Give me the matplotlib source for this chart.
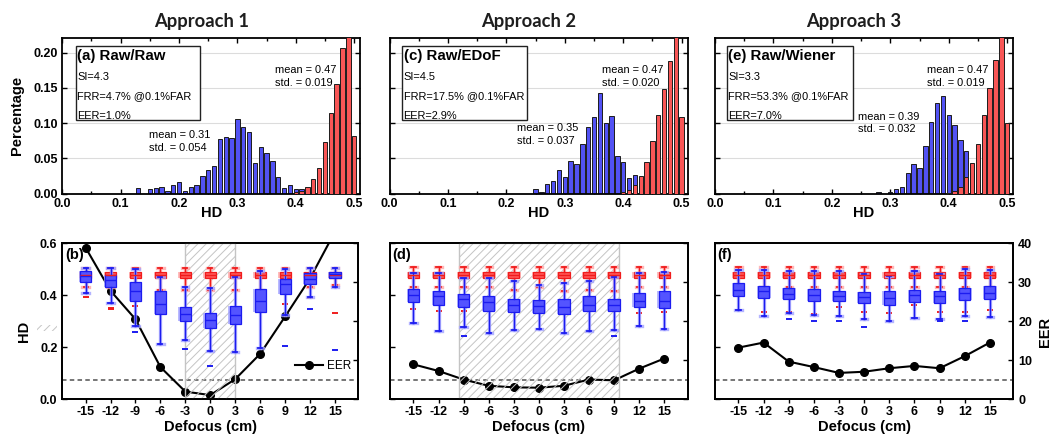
import numpy as np
import matplotlib
matplotlib.use("Agg")
import matplotlib.pyplot as plt
from matplotlib.patches import Rectangle
from matplotlib.ticker import MultipleLocator, FormatStrFormatter

plt.rcParams['font.family'] = ['Liberation Sans', 'DejaVu Sans']
plt.rcParams['hatch.linewidth'] = 0.7

BIN = 0.01

# ---------------- HD histograms (fraction per 0.01 bin) ----------------
gen_a_start = 0.13
gen_a_pct = [0.0076, 0.0, 0.006, 0.0085, 0.010, 0.0035, 0.012, 0.016, 0.004, 0.010,
             0.012, 0.025, 0.034, 0.039, 0.077, 0.081, 0.079, 0.106, 0.094, 0.087,
             0.043, 0.066, 0.058, 0.047, 0.024, 0.008, 0.013, 0.006, 0.006, 0.003]
imp_a_start = 0.40
imp_a_pct = [0.002, 0.004, 0.010, 0.021, 0.037, 0.073, 0.114, 0.156, 0.206, 0.250, 0.082]

gen_c_start = 0.25
gen_c_pct = [0.0066, 0.003, 0.014, 0.018, 0.033, 0.023, 0.046, 0.042, 0.071, 0.095,
             0.108, 0.142, 0.100, 0.110, 0.054, 0.045, 0.022, 0.026, 0.012, 0.003]
imp_c_start = 0.40
imp_c_pct = [0.003, 0.005, 0.012, 0.025, 0.045, 0.074, 0.112, 0.149, 0.188, 0.250, 0.108]

gen_e_start = 0.28
gen_e_pct = [0.002, 0.0, 0.002, 0.007, 0.010, 0.029, 0.042, 0.037, 0.067, 0.101,
             0.128, 0.139, 0.112, 0.097, 0.076, 0.061, 0.029, 0.012, 0.004, 0.002]
imp_e_start = 0.40
imp_e_pct = [0.0015, 0.004, 0.010, 0.023, 0.043, 0.071, 0.112, 0.150, 0.190, 0.250, 0.100]

approach_titles = ['Approach 1', 'Approach 2', 'Approach 3']
hist_tags = ['(a) Raw/Raw', '(c) Raw/EDoF', '(e) Raw/Wiener']
si_values = ['4.3', '4.5', '3.3']
frr_values = ['4.7%', '17.5%', '53.3%']
eer_totals = ['1.0%', '2.9%', '7.0%']
gen_means = ['0.31', '0.35', '0.39']
gen_stds = ['0.054', '0.037', '0.032']
imp_means = ['0.47', '0.47', '0.47']
imp_stds = ['0.019', '0.020', '0.019']

# ---------------- Defocus sweep ----------------
defocus = [-15, -12, -9, -6, -3, 0, 3, 6, 9, 12, 15]

eer_b = [38.9, 27.8, 20.5, 8.2, 1.9, 1.0, 5.1, 11.6, 21.2, 31.0, 43.0]
eer_d = [8.9, 7.2, 5.0, 3.4, 3.0, 2.9, 3.4, 5.0, 4.8, 7.8, 10.4]
eer_f = [13.2, 14.5, 9.6, 8.2, 6.7, 7.0, 7.9, 8.5, 7.9, 11.0, 14.5]
eer_threshold = 5.0

# genuine (blue) HD box statistics
gen_b_q1 = [0.452, 0.433, 0.379, 0.326, 0.302, 0.272, 0.288, 0.335, 0.406, 0.442, 0.468]
gen_b_med = [0.474, 0.459, 0.416, 0.367, 0.329, 0.304, 0.322, 0.376, 0.442, 0.464, 0.480]
gen_b_q3 = [0.495, 0.478, 0.450, 0.415, 0.356, 0.333, 0.360, 0.423, 0.461, 0.484, 0.491]
gen_b_lo = [0.410, 0.371, 0.281, 0.211, 0.227, 0.185, 0.180, 0.195, 0.324, 0.394, 0.433]
gen_b_hi = [0.506, 0.506, 0.502, 0.472, 0.433, 0.427, 0.469, 0.493, 0.500, 0.506, 0.506]
gen_b_out = [[], [], [0.260], [], [0.193], [0.128], [], [], [0.206], [0.346], [0.189]]

gen_d_q1 = [0.373, 0.361, 0.353, 0.340, 0.335, 0.333, 0.328, 0.340, 0.339, 0.353, 0.349]
gen_d_med = [0.401, 0.396, 0.384, 0.373, 0.361, 0.357, 0.353, 0.362, 0.361, 0.378, 0.378]
gen_d_q3 = [0.424, 0.418, 0.403, 0.398, 0.387, 0.380, 0.384, 0.398, 0.387, 0.407, 0.416]
gen_d_lo = [0.294, 0.262, 0.279, 0.253, 0.266, 0.269, 0.253, 0.263, 0.266, 0.283, 0.269]
gen_d_hi = [0.485, 0.485, 0.468, 0.468, 0.455, 0.440, 0.446, 0.456, 0.470, 0.487, 0.490]
gen_d_out = [[], [], [0.244], [], [], [], [], [], [0.243], [], []]

gen_f_q1 = [0.397, 0.389, 0.385, 0.379, 0.376, 0.369, 0.361, 0.375, 0.371, 0.383, 0.384]
gen_f_med = [0.421, 0.416, 0.406, 0.402, 0.397, 0.392, 0.388, 0.400, 0.396, 0.410, 0.407]
gen_f_q3 = [0.446, 0.437, 0.428, 0.425, 0.418, 0.411, 0.415, 0.419, 0.416, 0.427, 0.434]
gen_f_lo = [0.343, 0.321, 0.330, 0.324, 0.320, 0.308, 0.301, 0.311, 0.308, 0.321, 0.317]
gen_f_hi = [0.497, 0.497, 0.494, 0.494, 0.492, 0.480, 0.475, 0.494, 0.482, 0.500, 0.497]
gen_f_out = [[], [], [0.307], [0.302], [0.302], [0.276], [], [], [0.300], [0.300], []]

# impostor (red) HD box statistics
imp_b_q1 = [0.465] * 11
imp_b_med = [0.477] * 11
imp_b_q3 = [0.490] * 11
imp_b_lo = [0.430, 0.430, 0.430, 0.420, 0.420, 0.420, 0.420, 0.420, 0.430, 0.430, 0.440]
imp_b_hi = [0.506] * 11
imp_b_out = [[0.394], [0.350, 0.345], [0.357], [], [], [], [], [], [0.367], [0.390], [0.333]]

imp_d_q1 = [0.468] * 11
imp_d_med = [0.478] * 11
imp_d_q3 = [0.490] * 11
imp_d_lo = [0.430, 0.430, 0.430, 0.430, 0.419, 0.430, 0.418, 0.420, 0.418, 0.430, 0.430]
imp_d_hi = [0.510] * 11
imp_d_out = [[0.346], [0.339], [0.340], [0.392], [], [], [], [], [], [0.333], [0.337]]

imp_f_q1 = [0.468] * 11
imp_f_med = [0.478] * 11
imp_f_q3 = [0.490] * 11
imp_f_lo = [0.430] * 11
imp_f_hi = [0.508] * 11
imp_f_out = [[0.343], [0.337], [0.335], [0.329], [0.356], [0.337], [0.333], [0.364],
             [0.335], [0.335], [0.343]]

sweep_tags = ['(b)', '(d)', '(f)']

# ---------------- styling ----------------
BLUE_BAR = '#5252f4'
RED_BAR = '#f85656'
BLUE_FACE, BLUE_EDGE, BLUE_GLOW = '#5454ff', '#1c1cf0', '#a2a2ff'
RED_FACE, RED_EDGE, RED_GLOW = '#ff5656', '#f01c1c', '#ffa4a4'
TICK_FONT = dict(fontsize=9, fontweight='bold')
SMALL = 7.9

W, H = 1051, 437
fig = plt.figure(figsize=(W / 100, H / 100), dpi=100)


def px_axes(x0, x1, y_top, y_bot):
    return fig.add_axes([x0 / W, 1 - y_bot / H, (x1 - x0) / W, (y_bot - y_top) / H])


def style_spines(ax):
    for s in ax.spines.values():
        s.set_linewidth(1.3)


# ---------------- top row: histograms ----------------
hist_cols = [(62.3, 360.0), (389.5, 687.5), (715.0, 1013.0)]
hist_sets = [(gen_a_start, gen_a_pct, imp_a_start, imp_a_pct),
             (gen_c_start, gen_c_pct, imp_c_start, imp_c_pct),
             (gen_e_start, gen_e_pct, imp_e_start, imp_e_pct)]
box_x = [(0.024, 0.236), (0.022, 0.236), (0.021, 0.237)]
imp_text_x = [0.365, 0.363, 0.3625]
gen_text_xy = [(0.148, 0.0826), (0.2175, 0.0928), (0.2454, 0.109)]

for i, (x0, x1) in enumerate(hist_cols):
    ax = px_axes(x0, x1, 37.7, 193.7)
    gs, gp, is_, ip = hist_sets[i]
    gx = [gs + BIN * k for k in range(len(gp))]
    ix = [is_ + BIN * k for k in range(len(ip))]
    ax.bar(gx, gp, width=0.0075, color=BLUE_BAR, edgecolor='#1c1c1c', linewidth=0.7, zorder=2)
    ax.bar(ix, ip, width=0.0075, color=RED_BAR, edgecolor='#1c1c1c', linewidth=0.7, zorder=3)
    ax.set_xlim(0, 0.51)
    ax.set_ylim(0, 0.221)
    for g in [0.05, 0.10, 0.15, 0.20]:
        ax.axhline(g, color='#dcdcdc', lw=0.8, zorder=1)
    ax.xaxis.set_major_locator(MultipleLocator(0.1))
    ax.xaxis.set_minor_locator(MultipleLocator(0.05))
    ax.yaxis.set_major_locator(MultipleLocator(0.05))
    ax.xaxis.set_major_formatter(FormatStrFormatter('%.1f'))
    ax.yaxis.set_major_formatter(FormatStrFormatter('%.2f'))
    ax.tick_params(which='both', direction='in', top=True, right=True, width=1.0)
    ax.tick_params(which='major', length=3.5, pad=3)
    ax.tick_params(which='minor', length=2)
    for lab in ax.get_xticklabels() + ax.get_yticklabels():
        lab.set_fontsize(9)
        lab.set_fontweight('bold')
    if i == 0:
        ax.set_ylabel('Percentage', fontsize=10.5, fontweight='bold')
        ax.yaxis.set_label_coords(-0.128, 0.5)
    else:
        ax.set_yticklabels([])
    ax.set_xlabel('HD', fontsize=10.5, fontweight='bold')
    ax.xaxis.set_label_coords(0.5, -0.08)
    style_spines(ax)

    # info box
    bx0, bx1 = box_x[i]
    ax.add_patch(Rectangle((bx0, 0.1045), bx1 - bx0, 0.2095 - 0.1045, facecolor='white',
                           edgecolor='#222222', linewidth=1.0, zorder=4))
    tx = bx0 + 0.002
    ax.text(tx, 0.1950, hist_tags[i], fontsize=10.8, fontweight='bold', va='center', zorder=5)
    ax.text(tx, 0.1660, 'SI=' + si_values[i], fontsize=SMALL, va='center', zorder=5)
    ax.text(tx, 0.1386, 'FRR=' + frr_values[i] + ' @0.1%FAR', fontsize=SMALL, va='center',
            zorder=5)
    ax.text(tx, 0.1100, 'EER=' + eer_totals[i], fontsize=SMALL, va='center', zorder=5)

    # distribution statistics
    ax.text(imp_text_x[i], 0.175, 'mean = ' + imp_means[i], fontsize=SMALL, va='center', zorder=5)
    ax.text(imp_text_x[i], 0.157, 'std. = ' + imp_stds[i], fontsize=SMALL, va='center', zorder=5)
    gtx, gty = gen_text_xy[i]
    ax.text(gtx, gty, 'mean = ' + gen_means[i], fontsize=SMALL, va='center', zorder=5)
    ax.text(gtx, gty - 0.0178, 'std. = ' + gen_stds[i], fontsize=SMALL, va='center', zorder=5)

    ax.text(0.5 - 10 / (x1 - x0), 1.103, approach_titles[i],
            transform=ax.transAxes, ha='center', va='center', fontsize=13.2,
            fontweight='bold', family=['Lato', 'DejaVu Sans'], color='#1e1e1e')

# ---------------- bottom row: defocus sweep ----------------
sweep_cols = [(62.3, 358.3), (390.0, 687.7), (715.0, 1013.3)]
eer_sets = [eer_b, eer_d, eer_f]
gen_sets = [(gen_b_q1, gen_b_med, gen_b_q3, gen_b_lo, gen_b_hi, gen_b_out),
            (gen_d_q1, gen_d_med, gen_d_q3, gen_d_lo, gen_d_hi, gen_d_out),
            (gen_f_q1, gen_f_med, gen_f_q3, gen_f_lo, gen_f_hi, gen_f_out)]
imp_sets = [(imp_b_q1, imp_b_med, imp_b_q3, imp_b_lo, imp_b_hi, imp_b_out),
            (imp_d_q1, imp_d_med, imp_d_q3, imp_d_lo, imp_d_hi, imp_d_out),
            (imp_f_q1, imp_f_med, imp_f_q3, imp_f_lo, imp_f_hi, imp_f_out)]
focus_spans = [(-3.0, 3.0), (-9.6, 9.6), None]


def draw_boxes(ax, stats_cols, face, edge, glow):
    q1, med, q3, lo, hi, out = stats_cols
    stats = [dict(med=m, q1=a, q3=b, whislo=l, whishi=h, fliers=f)
             for a, m, b, l, h, f in zip(q1, med, q3, lo, hi, out)]
    ax.bxp(stats, positions=defocus, widths=1.65, patch_artist=True, showfliers=False,
           manage_ticks=False, capwidths=0.75,
           boxprops=dict(facecolor=glow, edgecolor=glow, linewidth=0, alpha=0.75),
           whiskerprops=dict(color=glow, linewidth=2.4, alpha=0.8),
           capprops=dict(color=glow, linewidth=2.4, alpha=0.8),
           medianprops=dict(linewidth=0))
    ax.bxp(stats, positions=defocus, widths=1.35, patch_artist=True, showfliers=True,
           manage_ticks=False, capwidths=0.5,
           boxprops=dict(facecolor=face, edgecolor=edge, linewidth=0.9),
           whiskerprops=dict(color=edge, linewidth=1.0),
           capprops=dict(color=edge, linewidth=1.3),
           medianprops=dict(color=edge, linewidth=1.0),
           flierprops=dict(marker='_', markeredgecolor=edge, markersize=4,
                           markeredgewidth=1.4, linestyle='none'))


for i, (x0, x1) in enumerate(sweep_cols):
    ax_e = px_axes(x0, x1, 243.3, 399.0)
    ax_h = ax_e.twinx()
    ax_h.yaxis.tick_left()
    ax_h.yaxis.set_label_position('left')
    ax_e.yaxis.tick_right()
    ax_e.yaxis.set_label_position('right')

    ax_e.set_xlim(-17.8, 17.8)
    ax_e.set_ylim(0, 40)
    ax_h.set_ylim(0, 0.6)

    ax_e.axhline(eer_threshold, color='#6b6b6b', lw=1.3, ls=(0, (2.5, 1.8)), zorder=2)
    line, = ax_e.plot(defocus, eer_sets[i], color='black', lw=1.5, marker='o',
                      markersize=5.5, zorder=3)
    span = focus_spans[i]
    if span is not None:
        ax_e.axvspan(span[0], span[1], facecolor='none', edgecolor='#c4c4c4', hatch='////',
                     linewidth=1.0, zorder=4)

    draw_boxes(ax_h, imp_sets[i], RED_FACE, RED_EDGE, RED_GLOW)
    draw_boxes(ax_h, gen_sets[i], BLUE_FACE, BLUE_EDGE, BLUE_GLOW)

    ax_e.set_xticks(defocus)
    ax_e.set_xticklabels([str(d) for d in defocus], **TICK_FONT)
    ax_e.tick_params(axis='x', direction='out', length=3, width=1.0, pad=2)
    ax_e.set_yticks([0, 10, 20, 30, 40])
    ax_e.tick_params(axis='y', direction='in', length=3.5, width=1.0)
    ax_h.set_yticks([0, 0.2, 0.4, 0.6])
    ax_h.tick_params(axis='y', direction='in', length=3.5, width=1.0)

    if i == 0:
        ax_h.set_yticklabels(['0.0', '0.2', '0.4', '0.6'], **TICK_FONT)
        ax_h.set_ylabel('HD', fontsize=10.5, fontweight='bold')
        ax_h.yaxis.set_label_coords(-0.107, 0.432)
        ax_e.legend([line], ['EER'], loc='center right', bbox_to_anchor=(0.975, 0.212),
                    frameon=False, fontsize=8.5, handlelength=2.4, handletextpad=0.3,
                    borderaxespad=0, borderpad=0)
    else:
        ax_h.set_yticklabels([])
    if i == 2:
        ax_e.set_yticklabels(['0', '10', '20', '30', '40'], **TICK_FONT)
        ax_e.set_ylabel('EER', fontsize=10.5, fontweight='bold', rotation=90)
        ax_e.yaxis.set_label_coords(1.083, 0.432)
    else:
        ax_e.set_yticklabels([])

    ax_e.set_xlabel('Defocus (cm)', fontsize=10.5, fontweight='bold')
    ax_e.xaxis.set_label_coords(0.5, -0.135)
    ax_e.text(0.009, 0.925, sweep_tags[i], transform=ax_e.transAxes, fontsize=10.5,
              fontweight='bold', va='center', ha='left', zorder=6)
    style_spines(ax_e)
    style_spines(ax_h)

# small hatched key swatch beside the HD axis label
fig.patches.append(Rectangle((37 / W, 1 - 331 / H), 20 / W, 6 / H, transform=fig.transFigure,
                             facecolor='none', edgecolor='#c4c4c4', hatch='////', linewidth=0))

fig.savefig('out.png', dpi=100)
